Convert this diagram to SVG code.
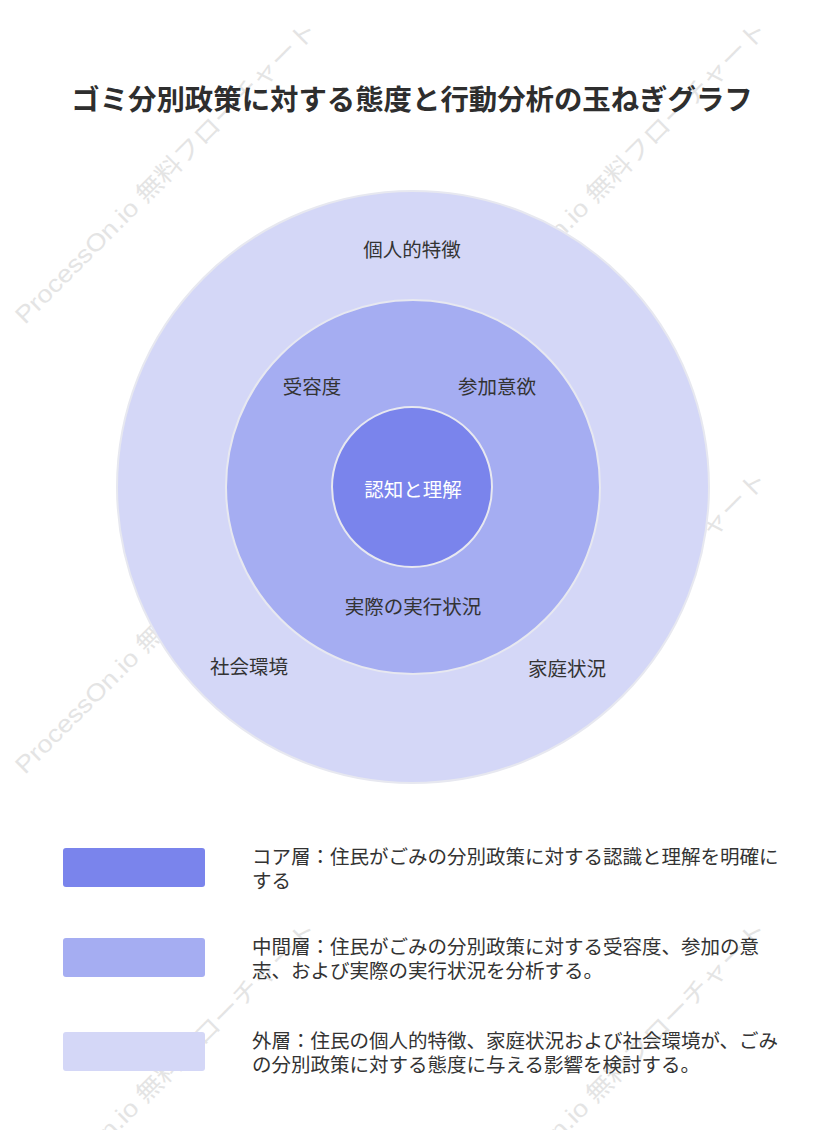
<svg xmlns="http://www.w3.org/2000/svg" width="832" height="1130" viewBox="0 0 832 1130">
<style>
.wm{font-family:"Liberation Sans","Noto Sans CJK JP",sans-serif;font-size:24px;fill:#e4e4e4;}
.title{font-family:"Noto Sans CJK JP",sans-serif;font-size:28.4px;font-weight:bold;fill:#2e2e2e;text-anchor:middle;}
.lbl{font-family:"Noto Sans CJK JP",sans-serif;font-size:19.5px;fill:#333333;text-anchor:middle;}
.lblw{font-family:"Noto Sans CJK JP",sans-serif;font-size:19.5px;fill:#ffffff;text-anchor:middle;}
.leg{font-family:"Noto Sans CJK JP",sans-serif;font-size:19.5px;fill:#333333;}
.ring{stroke:#e7e8f0;stroke-width:2;}
.core{fill:#7a84ec;}
.mid{fill:#a5adf2;}
.outer{fill:#d4d7f7;}
</style>
<rect x="0" y="0" width="832" height="1130" fill="#ffffff"/>
<g id="watermarks">
<text class="wm" transform="translate(25,325) rotate(-45)" textLength="415" lengthAdjust="spacingAndGlyphs">ProcessOn.io 無料フローチャート</text>
<text class="wm" transform="translate(475,325) rotate(-45)" textLength="415" lengthAdjust="spacingAndGlyphs">ProcessOn.io 無料フローチャート</text>
<text class="wm" transform="translate(25,775) rotate(-45)" textLength="415" lengthAdjust="spacingAndGlyphs">ProcessOn.io 無料フローチャート</text>
<text class="wm" transform="translate(475,775) rotate(-45)" textLength="415" lengthAdjust="spacingAndGlyphs">ProcessOn.io 無料フローチャート</text>
<text class="wm" transform="translate(25,1225) rotate(-45)" textLength="415" lengthAdjust="spacingAndGlyphs">ProcessOn.io 無料フローチャート</text>
<text class="wm" transform="translate(475,1225) rotate(-45)" textLength="415" lengthAdjust="spacingAndGlyphs">ProcessOn.io 無料フローチャート</text>
</g>
<g id="title">
<text class="title" x="412" y="110">ゴミ分別政策に対する態度と行動分析の玉ねぎグラフ</text>
</g>
<g id="outer-layer">
<circle class="ring outer" cx="413" cy="487" r="296"/>
<text class="lbl" x="412" y="257">個人的特徴</text>
<text class="lbl" x="249" y="674">社会環境</text>
<text class="lbl" x="567" y="676">家庭状況</text>
</g>
<g id="middle-layer">
<circle class="ring mid" cx="413" cy="487" r="187"/>
<text class="lbl" x="312" y="394">受容度</text>
<text class="lbl" x="497" y="394">参加意欲</text>
<text class="lbl" x="413" y="614">実際の実行状況</text>
</g>
<g id="core-layer">
<circle class="ring core" cx="412" cy="487" r="80"/>
<text class="lblw" x="413" y="497">認知と理解</text>
</g>
<g id="connectors"></g>
<g id="legend-core">
<rect class="core" x="63" y="848" width="142" height="39" rx="3"/>
<text class="leg" x="252" y="864">コア層：住民がごみの分別政策に対する認識と理解を明確に</text>
<text class="leg" x="252" y="888">する</text>
</g>
<g id="legend-middle">
<rect class="mid" x="63" y="938" width="142" height="39" rx="3"/>
<text class="leg" x="252" y="954">中間層：住民がごみの分別政策に対する受容度、参加の意</text>
<text class="leg" x="252" y="978">志、および実際の実行状況を分析する。</text>
</g>
<g id="legend-outer">
<rect class="outer" x="63" y="1032" width="142" height="39" rx="3"/>
<text class="leg" x="252" y="1048">外層：住民の個人的特徴、家庭状況および社会環境が、ごみ</text>
<text class="leg" x="252" y="1072">の分別政策に対する態度に与える影響を検討する。</text>
</g>
</svg>
